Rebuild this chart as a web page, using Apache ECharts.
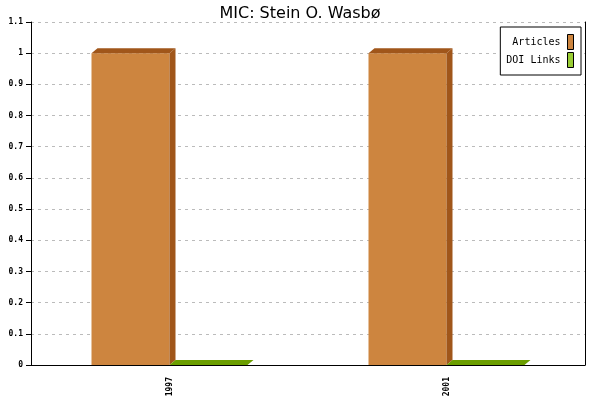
<!DOCTYPE html>
<html><head><meta charset="utf-8">
<script src="https://cdn.jsdelivr.net/npm/echarts@6/dist/echarts.min.js"></script>
<style>html,body{margin:0;padding:0;background:#fff}#c{width:600px;height:400px}</style>
</head><body><div id="c"></div>
<script>
const categories = ['1997', '2001'];
const articles = [1, 1];
const doiLinks = [0, 0];
const yTicks = [0, 1.1, 0.1];

const chart = echarts.init(document.getElementById('c'));
const DX = 6, DY = 5, BW = 78;
function make3d(front, dark, offsetSign) {
  return function (params, api) {
    const idx = api.value(0), val = api.value(1);
    const top = api.coord([idx, val]);
    const base = api.coord([idx, 0]);
    const cx = top[0];
    const x0 = offsetSign < 0 ? cx - BW : cx;
    const x1 = x0 + BW;
    const yT = top[1], yB = base[1];
    const children = [];
    if (yB - yT > 0.5) {
      children.push({type: 'rect', shape: {x: x0, y: yT, width: BW, height: yB - yT}, style: {fill: front}});
      children.push({type: 'polygon', shape: {points: [[x1, yT], [x1 + DX, yT - DY], [x1 + DX, yB - DY], [x1, yB]]}, style: {fill: dark}});
    }
    children.push({type: 'polygon', shape: {points: [[x0, yT], [x0 + DX, yT - DY], [x1 + DX, yT - DY], [x1, yT]]}, style: {fill: dark}});
    return {type: 'group', children: children};
  };
}
chart.setOption({
  animation: false,
  title: {text: 'MIC: Stein O. Wasbø', left: 'center', top: 1,
    textStyle: {fontFamily: 'DejaVu Sans', fontSize: 16, fontWeight: 'normal', color: '#000'}},
  grid: {left: 31, right: 15, top: 22, bottom: 35},
  legend: {
    orient: 'vertical', right: 19, top: 27, align: 'right',
    backgroundColor: '#fff', borderColor: '#000', borderWidth: 1,
    padding: [7, 7, 7, 6], itemGap: 2, itemWidth: 6, itemHeight: 15,
    icon: 'rect',
    itemStyle: {borderColor: '#000', borderWidth: 1},
    textStyle: {fontFamily: 'DejaVu Sans Mono', fontSize: 10, color: '#000', padding: [0, 2, 0, 0]},
    data: ['Articles', 'DOI Links']
  },
  xAxis: {
    type: 'category', data: categories,
    axisLine: {lineStyle: {color: '#000'}},
    axisTick: {lineStyle: {color: '#000'}, length: 5},
    axisLabel: {rotate: 90, fontFamily: 'DejaVu Sans Mono', fontSize: 8, fontWeight: 'bold', color: '#000', margin: 12}
  },
  yAxis: [{
    type: 'value', min: yTicks[0], max: yTicks[1], interval: yTicks[2],
    axisLine: {show: true, lineStyle: {color: '#000'}},
    axisTick: {show: true, length: 5, lineStyle: {color: '#000'}},
    axisLabel: {fontFamily: 'DejaVu Sans Mono', fontSize: 8, fontWeight: 'bold', color: '#000', margin: 8},
    splitLine: {lineStyle: {color: '#bbb', type: [3, 4]}}
  }, {
    type: 'value', min: yTicks[0], max: yTicks[1], position: 'right',
    axisLine: {show: true, lineStyle: {color: '#000'}},
    axisTick: {show: false}, axisLabel: {show: false}, splitLine: {show: false}
  }],
  series: [{
    name: 'Articles', type: 'custom',
    itemStyle: {color: '#CD853F'},
    renderItem: make3d('#CD853F', '#A0561A', -1),
    encode: {x: 0, y: 1},
    data: categories.map((c, i) => [i, articles[i]])
  }, {
    name: 'DOI Links', type: 'custom',
    itemStyle: {color: '#99CC33'},
    renderItem: make3d('#99CC33', '#6B9E00', 1),
    encode: {x: 0, y: 1},
    data: categories.map((c, i) => [i, doiLinks[i]])
  }]
});
</script></body></html>
